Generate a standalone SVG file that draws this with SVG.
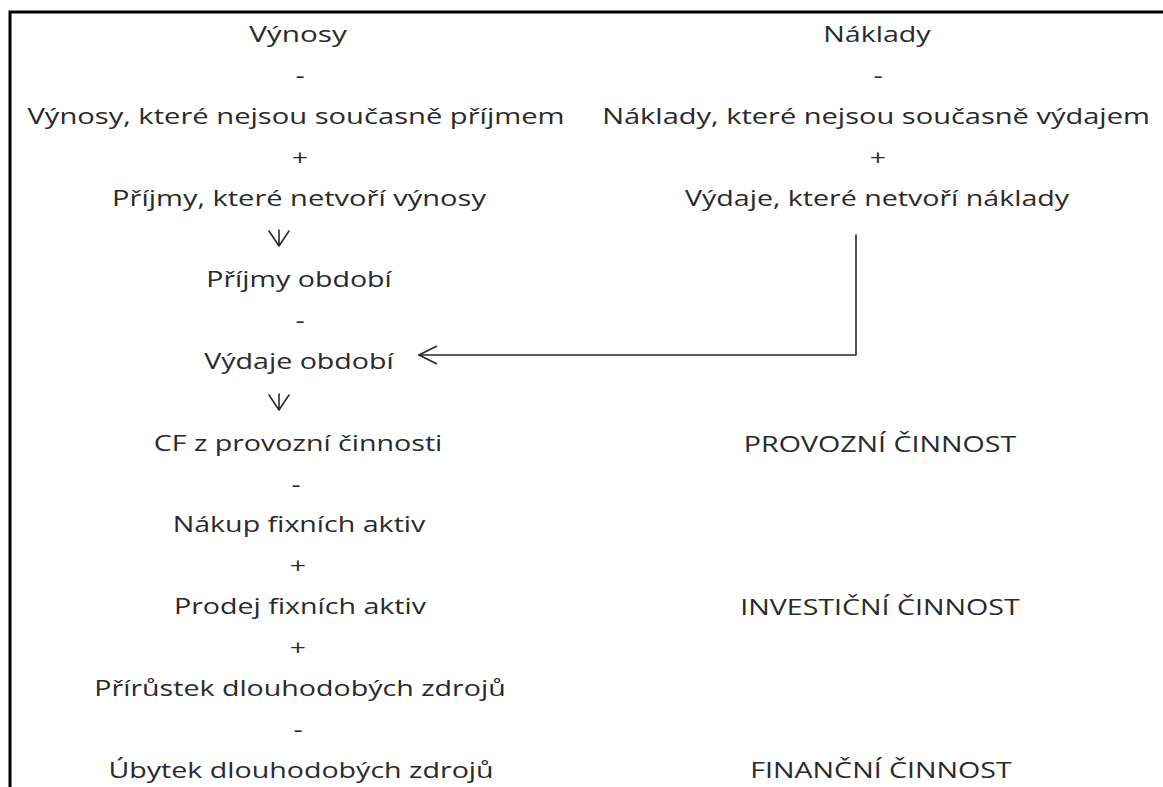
<svg xmlns="http://www.w3.org/2000/svg" width="1163" height="787" viewBox="0 0 1163 787">
  <style>
    text { font-family: "Open Sans", "Noto Sans", "DejaVu Sans", sans-serif; font-size: 22px; fill: #2a2a2a; text-anchor: middle; }
    .ln { fill: none; stroke: #2a2a2a; stroke-width: 1.6; stroke-linecap: round; stroke-linejoin: round; }
    .frame { fill: none; stroke: #000; stroke-width: 3; }
  </style>
  <defs>
    <!-- open "<" style head, tip at the end of the path -->
    <marker id="openHead" viewBox="0 0 20 20" refX="19" refY="10" markerWidth="20" markerHeight="20" markerUnits="userSpaceOnUse" orient="auto">
      <path d="M1,1 L19,10 L1,19" fill="none" stroke="#2a2a2a" stroke-width="1.6"/>
    </marker>
  </defs>

  <rect width="1163" height="787" fill="#ffffff"/>
  <path class="frame" d="M10,800 V12 H1175"/>

  <!-- revenue side (labels are widened horizontally) -->
  <g id="vynosy"><text transform="translate(298 42) scale(1.35 1)">Výnosy</text></g>
  <g id="op-minus-1"><text transform="translate(300 83) scale(1.3 1)">-</text></g>
  <g id="vynosy-neprijem"><text transform="translate(296 124) scale(1.325 1)">Výnosy, které nejsou současně příjmem</text></g>
  <g id="op-plus-1"><text transform="translate(300 165) scale(1.3 1)">+</text></g>
  <g id="prijmy-nevynos"><text transform="translate(299 206) scale(1.32 1)">Příjmy, které netvoří výnosy</text></g>

  <!-- cash flow chain -->
  <g id="prijmy-obdobi"><text transform="translate(299 287) scale(1.3 1)">Příjmy období</text></g>
  <g id="op-minus-2"><text transform="translate(300 328) scale(1.3 1)">-</text></g>
  <g id="vydaje-obdobi"><text transform="translate(299 369) scale(1.3 1)">Výdaje období</text></g>
  <g id="cf-provozni"><text transform="translate(298 451) scale(1.3 1)">CF z provozní činnosti</text></g>
  <g id="op-minus-3"><text transform="translate(296 492) scale(1.3 1)">-</text></g>
  <g id="nakup-fa"><text transform="translate(299 532) scale(1.3 1)">Nákup fixních aktiv</text></g>
  <g id="op-plus-2"><text transform="translate(298 573) scale(1.3 1)">+</text></g>
  <g id="prodej-fa"><text transform="translate(300 614) scale(1.3 1)">Prodej fixních aktiv</text></g>
  <g id="op-plus-3"><text transform="translate(298 655) scale(1.3 1)">+</text></g>
  <g id="prirustek"><text transform="translate(300 696) scale(1.3 1)">Přírůstek dlouhodobých zdrojů</text></g>
  <g id="op-minus-4"><text transform="translate(298 737) scale(1.3 1)">-</text></g>
  <g id="ubytek"><text transform="translate(301 778) scale(1.3 1)">Úbytek dlouhodobých zdrojů</text></g>

  <!-- cost side -->
  <g id="naklady"><text transform="translate(877 42) scale(1.3 1)">Náklady</text></g>
  <g id="op-minus-5"><text transform="translate(878 83) scale(1.3 1)">-</text></g>
  <g id="naklady-nevydaj"><text transform="translate(876 124) scale(1.32 1)">Náklady, které nejsou současně výdajem</text></g>
  <g id="op-plus-4"><text transform="translate(878 165) scale(1.3 1)">+</text></g>
  <g id="vydaje-nenaklad"><text transform="translate(877 206) scale(1.3 1)">Výdaje, které netvoří náklady</text></g>

  <!-- activity labels -->
  <g id="provozni"><text transform="translate(880 452) scale(1.3 1)">PROVOZNÍ ČINNOST</text></g>
  <g id="investicni"><text transform="translate(880 615) scale(1.3 1)">INVESTIČNÍ ČINNOST</text></g>
  <g id="financni"><text transform="translate(881 778) scale(1.3 1)">FINANČNÍ ČINNOST</text></g>

  <!-- connectors -->
  <g id="connectors">
    <path class="ln" d="M269,231 L279,246 L289,231 M279,230 V246"/>
    <path class="ln" d="M269,395 L279,410 L289,395 M279,394 V410"/>
    <path class="ln" d="M856,235 V355 H419" marker-end="url(#openHead)"/>
  </g>
</svg>
